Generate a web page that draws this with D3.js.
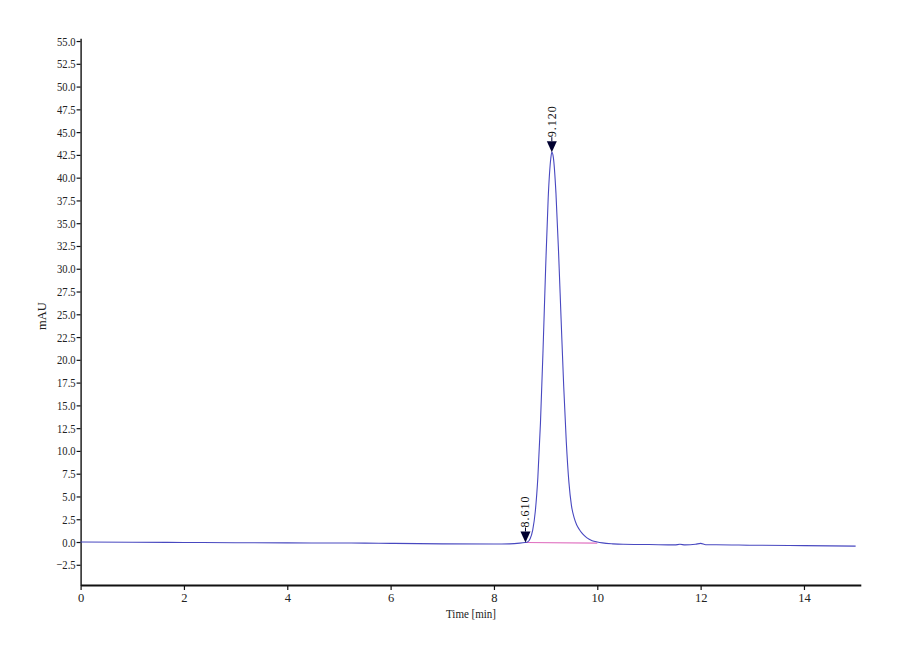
<!DOCTYPE html>
<html><head><meta charset="utf-8">
<script src="https://cdn.jsdelivr.net/npm/d3@7"></script>
<style>body{margin:0;background:#fff}svg{display:block}</style>
</head><body>
<svg id="c" width="900" height="660"></svg>
<script>
// ---- data ----
const times = [0,1,2,3,4,5,5.5,6,7,8,8.3,8.5,8.6,8.65,8.7,8.75,8.8,8.85,8.9,8.95,9.0,9.05,9.1,9.12,9.15,9.2,9.25,9.3,9.35,9.4,9.45,9.5,9.55,9.6,9.65,9.7,9.75,9.8,9.9,10.0,10.1,10.3,10.5,11,11.5,11.6,11.7,11.9,12.0,12.1,12.3,13,14,15];
const signal = [0.0,-0.02,-0.05,-0.08,-0.1,-0.11,-0.12,-0.15,-0.2,-0.22,-0.2,-0.12,-0.05,0.0,0.35,1.3,3.35,7.1,13.05,21.05,30.0,37.8,42.1,42.8,42.2,38.3,31.9,24.4,17.1,11.0,6.6,4.0,2.7,1.9,1.4,1.0,0.7,0.45,0.15,0.0,-0.1,-0.2,-0.25,-0.28,-0.32,-0.25,-0.32,-0.25,-0.15,-0.3,-0.3,-0.35,-0.4,-0.45];
const peakTimes = [8.61, 9.12];
const peakLabels = ["8.610", "9.120"];
const peakValues = [-0.05, 42.8];
const baselineTimes = [8.61, 10.0];
const baselineValues = [-0.05, -0.12];
const xTicks = [0,2,4,6,8,10,12,14];
const yTicks = [-2.5,0,2.5,5,7.5,10,12.5,15,17.5,20,22.5,25,27.5,30,32.5,35,37.5,40,42.5,45,47.5,50,52.5,55];

// ---- chart ----
const svg = d3.select("#c");
const x = d3.scaleLinear().domain([0, 15.1]).range([80.6, 860.8]);
const y = d3.scaleLinear().domain([-4.72, 55.3]).range([585, 38.3]);
const font = "'Liberation Serif', 'Times New Roman', serif";

// y axis
const ya = svg.append("g").attr("transform", "translate(80.6,0)")
  .call(d3.axisLeft(y).tickValues(yTicks).tickFormat(d3.format(".1f")).tickSize(4).tickSizeOuter(0));
ya.attr("font-family", font);
ya.select(".domain").attr("stroke", "#111").attr("stroke-width", 1.4);
ya.selectAll(".tick line").attr("stroke", "#111").attr("stroke-width", 1.2);
ya.selectAll(".tick text").style("font-family", font).attr("font-size", 12.5).attr("fill", "#222")
  .attr("x", 0).attr("transform", "translate(-5,0) scale(0.85,1)");

// x axis
const xa = svg.append("g").attr("transform", "translate(0,585)")
  .call(d3.axisBottom(x).tickValues(xTicks).tickFormat(d3.format("d")).tickSize(5).tickSizeOuter(0).tickPadding(3));
xa.attr("font-family", font);
xa.select(".domain").attr("stroke", "#111").attr("stroke-width", 2.2);
xa.selectAll(".tick line").attr("stroke", "#111").attr("stroke-width", 1.2);
xa.selectAll(".tick text").style("font-family", font).attr("font-size", 12.5).attr("fill", "#222");

svg.append("text").attr("x", 471).attr("y", 618).attr("text-anchor", "middle")
  .attr("transform", "translate(471,0) scale(0.88,1) translate(-471,0)")
  .style("font-family", font).attr("font-size", 12.5).attr("fill", "#222").text("Time [min]");
svg.append("text").attr("transform", "translate(46,316) rotate(-90)").attr("text-anchor", "middle")
  .style("font-family", font).attr("font-size", 12.5).attr("fill", "#222").text("mAU");

// baseline (pink)
const pts = times.map((t, i) => [t, signal[i]]);
svg.append("path").datum(baselineTimes.map((t, i) => [t, baselineValues[i]]))
  .attr("fill", "none").attr("stroke", "#e070c0").attr("stroke-width", 1.1)
  .attr("d", d3.line().x(d => x(d[0])).y(d => y(d[1])));

// signal
svg.append("path").datum(pts)
  .attr("fill", "none").attr("stroke", "#4848c0").attr("stroke-width", 1.1)
  .attr("d", d3.line().curve(d3.curveMonotoneX).x(d => x(d[0])).y(d => y(d[1])));

// peak markers
peakTimes.forEach((t, i) => {
  const px = x(t), py = y(peakValues[i]);
  const g = svg.append("g");
  g.append("path").attr("d", `M${px-5},${py-11}L${px+5},${py-11}L${px},${py}Z`).attr("fill", "#000030");
  g.append("line").attr("x1", px).attr("x2", px).attr("y1", py - 11).attr("y2", py - 15)
    .attr("stroke", "#000030").attr("stroke-width", 1);
  g.append("text").attr("transform", `translate(${px+4},${py-15}) rotate(-90)`)
    .style("font-family", font).attr("font-size", 12).attr("fill", "#111").attr("letter-spacing", 1).text(peakLabels[i]);
});
</script>
</body></html>
